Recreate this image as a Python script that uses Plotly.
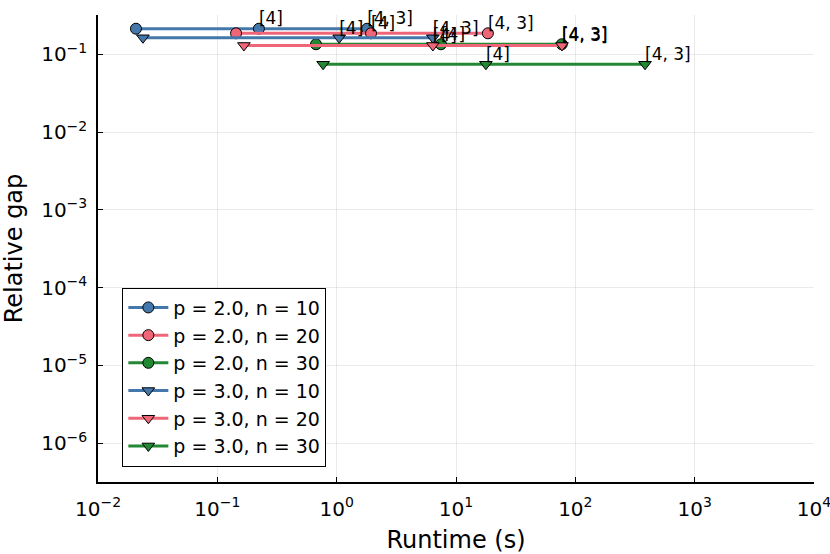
import plotly.graph_objects as go

series_names = ["p = 2.0, n = 10", "p = 2.0, n = 20", "p = 2.0, n = 30",
                "p = 3.0, n = 10", "p = 3.0, n = 20", "p = 3.0, n = 30"]
runtime_p2_n10 = [0.0208, 0.223, 1.80]
runtime_p2_n20 = [0.1435, 1.94, 18.5]
runtime_p2_n30 = [0.671, 7.48, 77.0]
runtime_p3_n10 = [0.0238, 1.05, 6.4]
runtime_p3_n20 = [0.167, 6.4, 77.3]
runtime_p3_n30 = [0.77, 17.8, 384.0]
gap_p2_n10 = [0.213, 0.213, 0.213]
gap_p2_n20 = [0.186, 0.186, 0.186]
gap_p2_n30 = [0.1345, 0.1345, 0.1345]
gap_p3_n10 = [0.163, 0.163, 0.163]
gap_p3_n20 = [0.1297, 0.1297, 0.1297]
gap_p3_n30 = [0.0744, 0.0744, 0.0744]
point_labels = ["", "[4]", "[4, 3]"]

x_tick_vals = [1e-2, 1e-1, 1e0, 1e1, 1e2, 1e3, 1e4]
x_tick_text = ["10<sup>−2</sup>", "10<sup>−1</sup>", "10<sup>0</sup>", "10<sup>1</sup>",
               "10<sup>2</sup>", "10<sup>3</sup>", "10<sup>4</sup>"]
y_tick_vals = [1e-6, 1e-5, 1e-4, 1e-3, 1e-2, 1e-1]
y_tick_text = ["10<sup>−6</sup>", "10<sup>−5</sup>", "10<sup>−4</sup>", "10<sup>−3</sup>",
               "10<sup>−2</sup>", "10<sup>−1</sup>"]

runtimes = [runtime_p2_n10, runtime_p2_n20, runtime_p2_n30,
            runtime_p3_n10, runtime_p3_n20, runtime_p3_n30]
gaps = [gap_p2_n10, gap_p2_n20, gap_p2_n30, gap_p3_n10, gap_p3_n20, gap_p3_n30]
colors = ["#4477AA", "#EE6677", "#228833", "#4477AA", "#EE6677", "#228833"]
symbols = ["circle", "circle", "circle", "triangle-down", "triangle-down", "triangle-down"]

fig = go.Figure()
for name, xs, ys, c, s in zip(series_names, runtimes, gaps, colors, symbols):
    fig.add_trace(go.Scatter(
        x=xs, y=ys, name=name, mode="lines+markers",
        line=dict(color=c, width=3),
        marker=dict(symbol=s, size=11, color=c, line=dict(color="black", width=1)),
    ))
for xs, ys in zip(runtimes, gaps):
    fig.add_trace(go.Scatter(
        x=xs, y=ys, mode="text", text=point_labels, textposition="top right",
        textfont=dict(family="DejaVu Sans", size=17, color="black"),
        showlegend=False, hoverinfo="skip", cliponaxis=False,
    ))

axis_common = dict(
    type="log", showline=True, linecolor="black", linewidth=1.5,
    ticks="inside", ticklen=5, tickcolor="black",
    showgrid=True, gridcolor="rgba(0,0,0,0.08)", gridwidth=1,
    zeroline=False, mirror=False, ticklabeloverflow="allow",
    tickfont=dict(family="DejaVu Sans", size=20, color="black"),
)
fig.update_xaxes(**axis_common, range=[-2, 4], tickvals=x_tick_vals, ticktext=x_tick_text,
                 ticklabelstandoff=8,
                 title=dict(text="Runtime (s)", font=dict(family="DejaVu Sans", size=24, color="black"),
                            standoff=12))
fig.update_yaxes(**axis_common, range=[-6.501, -0.495], tickvals=y_tick_vals, ticktext=y_tick_text,
                 ticklabelstandoff=5,
                 title=dict(text="Relative gap", font=dict(family="DejaVu Sans", size=24, color="black"),
                            standoff=16))

fig.update_layout(
    width=830, height=554,
    margin=dict(l=98, r=16, t=15, b=72, autoexpand=False),
    plot_bgcolor="white", paper_bgcolor="white",
    font=dict(family="DejaVu Sans", color="black"),
    legend=dict(x=0.034, y=0.033, xanchor="left", yanchor="bottom",
                bgcolor="white", bordercolor="black", borderwidth=1,
                font=dict(family="DejaVu Sans", size=19, color="black"),
                tracegroupgap=0, itemwidth=40),
)

fig.write_html("out.html", config={"displayModeBar": False},
               post_script="document.body.style.margin='0';")
